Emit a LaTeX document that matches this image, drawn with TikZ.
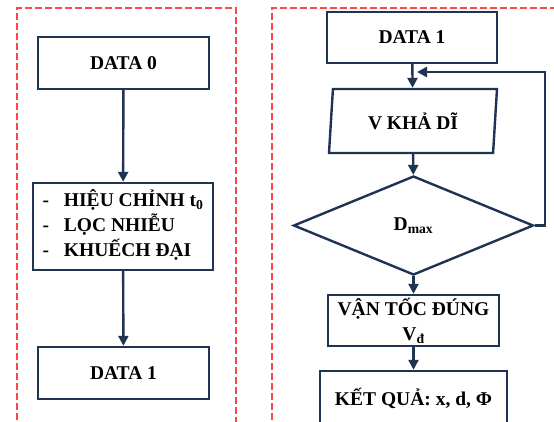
\documentclass[tikz,border=0pt]{standalone}
\usepackage{fontspec}
\setmainfont{Liberation Serif}
\usepackage{xcolor}
\usepackage{tikz}
\usetikzlibrary{positioning,arrows.meta,shapes.geometric}
\definecolor{flowline}{RGB}{31,52,82}
\definecolor{framered}{RGB}{255,70,70}
\tikzset{
  proc box/.style={
    rectangle,
    draw=flowline,
    line width=2.4pt,
    fill=white,
    inner sep=0pt,
    align=center,
    font=\fontsize{19.5}{25}\selectfont\bfseries
  },
  data box/.style={
    proc box,
    minimum width=171pt,
    minimum height=52pt
  },
  io box/.style={
    proc box,
    trapezium,
    trapezium left angle=77,
    trapezium right angle=103,
    trapezium stretches body
  },
  test box/.style={
    proc box,
    diamond
  },
  flow/.style={
    -{Triangle[length=10pt,width=10pt]},
    draw=flowline,
    line width=2.4pt
  },
  frame/.style={
    draw=framered,
    line width=1.2pt,
    dash pattern=on 7pt off 3pt
  }
}

\begin{document}
\begin{tikzpicture}[x=1pt,y=-1pt]
  \useasboundingbox (0,0) rectangle (554,421);

  % Frames
  \draw[frame] (17,430) -- (17,8) -- (236,8) -- (236,430);
  \draw[frame] (272,430) -- (272,8) -- (560,8);

  % Left column
  \node[data box] (data0) at (123.5,63) {DATA 0};
  \node[proc box, minimum width=180pt, minimum height=87pt] (prep) at (123,226.5)
    {\begin{tabular}{@{}l@{\hspace{15pt}}l@{}}
      - & HIỆU CHỈNH t\textsubscript{0}\\
      - & LỌC NHIỄU\\
      - & KHUẾCH ĐẠI
    \end{tabular}};
  \node[data box] (data1l) at (123.5,373) {DATA 1};

  \draw[flow] (data0) -- (prep);
  \draw[flow] (prep) -- (data1l);

  % Right column
  \node[data box, minimum width=170pt, minimum height=51pt] (data1r) at (412,37.5) {DATA 1};
  \node[io box, minimum width=168pt, minimum height=64pt] (vkhadi) at (413,121) {V KHẢ DĨ};
  \node[test box, minimum width=240pt, minimum height=99pt] (dmax) at (413.5,225.5) {D\textsubscript{max}};
  \node[data box, minimum height=51pt] (vdung) at (413.5,320.5)
    {VẬN TỐC ĐÚNG\\V\textsubscript{đ}};
  \node[proc box, minimum width=187pt, minimum height=54pt] (ketqua) at (413.5,398)
    {KẾT QUẢ: x, d, Φ};

  \coordinate (loopin) at (417,72);

  \draw[flow] (data1r) -- (vkhadi);
  \draw[flow] (vkhadi) -- (dmax);
  \draw[flow] (dmax) -- (vdung);
  \draw[flow] (vdung) -- (ketqua);
  \draw[flow] (dmax.east) -- ++(10,0) |- (loopin);
\end{tikzpicture}
\end{document}
